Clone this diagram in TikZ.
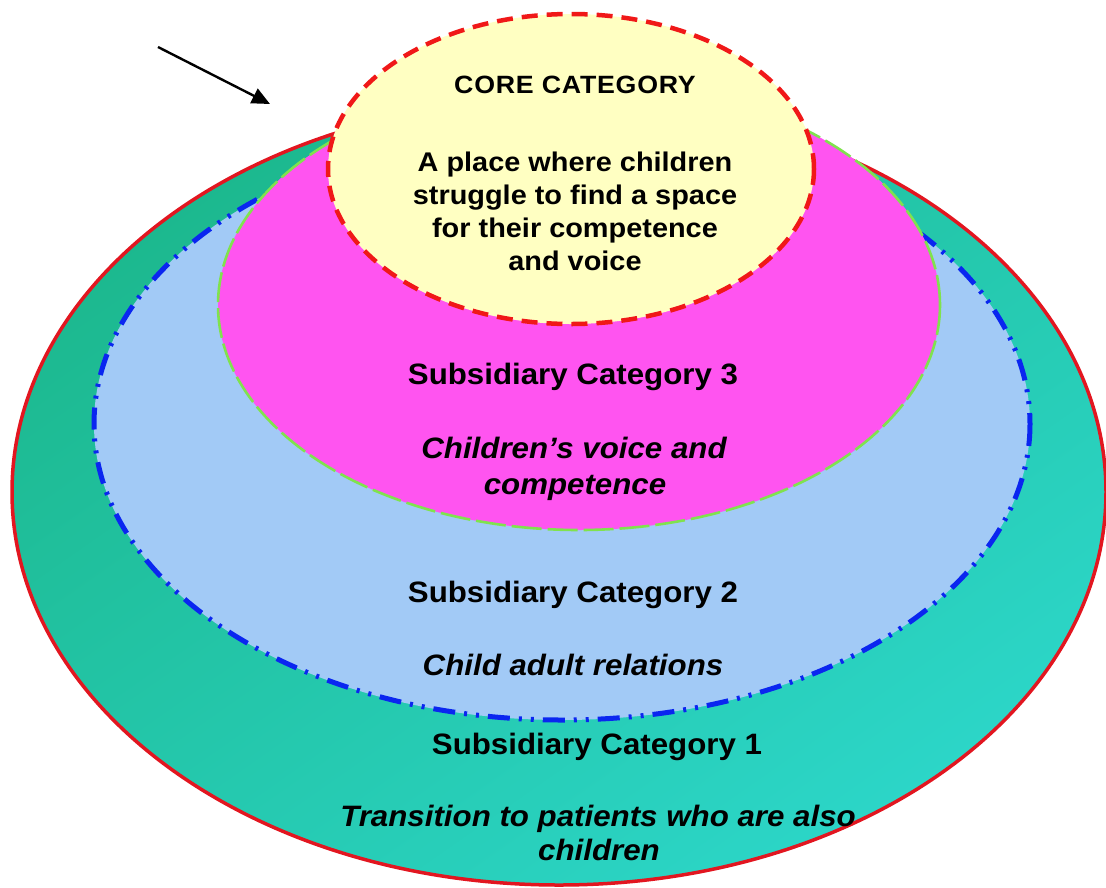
\documentclass[tikz,border=0pt]{standalone}
\usepackage{fontspec}
\setmainfont{Liberation Sans}
\newfontfamily\labelfont[FakeStretch=1.06]{Liberation Sans}
\newfontfamily\corefont[FakeStretch=1.07]{Liberation Sans}
\usetikzlibrary{arrows.meta}

\definecolor{ringteal}{RGB}{28,184,142}
\definecolor{ringcyan}{RGB}{44,214,200}
\definecolor{ringred}{RGB}{226,22,32}
\definecolor{skyfill}{RGB}{162,202,246}
\definecolor{dashblue}{RGB}{10,38,240}
\definecolor{pinkfill}{RGB}{255,84,240}
\definecolor{dashgreen}{RGB}{128,226,78}
\definecolor{corefill}{RGB}{255,255,194}
\definecolor{dashred}{RGB}{240,24,24}

\begin{document}
\begin{tikzpicture}[x=1pt,y=-1pt,
  outerring/.style={draw=ringred,line width=3.5pt},
  relationring/.style={fill=skyfill,draw=dashblue,line width=5pt,
    dash pattern=on 22pt off 9pt on 3pt off 9pt on 3pt off 9pt},
  voicering/.style={fill=pinkfill,draw=dashgreen,line width=2.6pt,
    dash pattern=on 30pt off 6pt},
  corering/.style={fill=corefill,draw=dashred,line width=4.5pt,
    dash pattern=on 16pt off 9pt},
  heading/.style={font=\labelfont\bfseries\fontsize{29.5}{29.5}\selectfont,
    anchor=base,inner sep=0pt},
  theme/.style={font=\labelfont\bfseries\itshape\fontsize{29.5}{29.5}\selectfont,
    anchor=base,inner sep=0pt},
  corebody/.style={font=\corefont\bfseries\fontsize{27}{27}\selectfont,
    anchor=base,inner sep=0pt},
  coretitle/.style={font=\corefont\bfseries\addfontfeature{LetterSpace=3}\fontsize{25}{25}\selectfont,
    anchor=base,inner sep=0pt},
  pointer/.style={-{Triangle[length=18pt,width=16pt]},line width=2.4pt,black},
]
\useasboundingbox (0,0) rectangle (1106,887);

% outer ring: subsidiary category 1
\shade[top color=ringteal,bottom color=ringcyan,shading angle=35]
  (559,492) ellipse [x radius=547,y radius=393];
\draw[outerring] (559,492) ellipse [x radius=547,y radius=393];

% second ring: subsidiary category 2
\path[relationring] (562,424) ellipse [x radius=468,y radius=296];

% third ring: subsidiary category 3
\path[voicering] (579,305) ellipse [x radius=361,y radius=225];

% core category
\path[corering] (571,169) ellipse [x radius=243,y radius=155];

% pointer towards the rings
\coordinate (pointerTail) at (158,47);
\coordinate (pointerTip) at (270,104);
\draw[pointer] (pointerTail) -- (pointerTip);

% labels
\node[coretitle] (coreTitle) at (575,93) {CORE CATEGORY};
\node[corebody] (coreA) at (575,171) {A place where children};
\node[corebody] (coreB) at (575,204) {struggle to find a space};
\node[corebody] (coreC) at (575,237) {for their competence};
\node[corebody] (coreD) at (575,270) {and voice};

\node[heading] (subThree) at (573,384) {Subsidiary Category 3};
\node[theme] (voiceA) at (574,458) {Children’s voice and};
\node[theme] (voiceB) at (575,494) {competence};

\node[heading] (subTwo) at (573,602) {Subsidiary Category 2};
\node[theme] (relations) at (573,675) {Child adult relations};

\node[heading] (subOne) at (597,754) {Subsidiary Category 1};
\node[theme] (transitionA) at (598,826) {Transition to patients who are also};
\node[theme] (transitionB) at (599,860) {children};
\end{tikzpicture}
\end{document}
